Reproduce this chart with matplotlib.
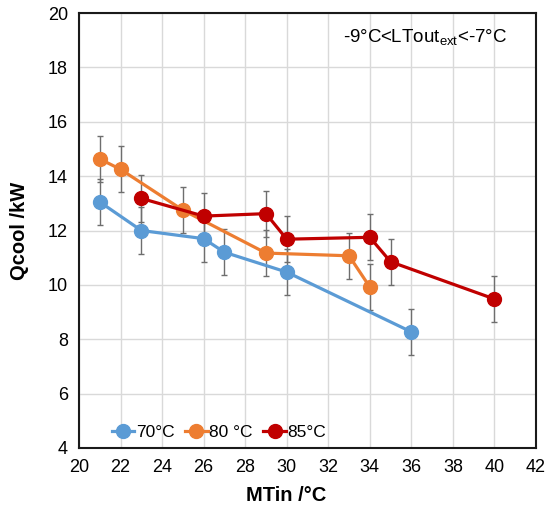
import matplotlib
matplotlib.use("Agg")
import matplotlib.pyplot as plt

# measured cooling capacity vs. inlet temperature, per supply temperature
mtin_70 = [21, 23, 26, 27, 30, 36]
qcool_70 = [13.05, 12.0, 11.7, 11.2, 10.47, 8.27]

mtin_80 = [21, 22, 25, 29, 33, 34]
qcool_80 = [14.63, 14.25, 12.75, 11.17, 11.07, 9.92]

mtin_85 = [23, 26, 29, 30, 34, 35, 40]
qcool_85 = [13.18, 12.53, 12.62, 11.68, 11.75, 10.85, 9.48]

qcool_err = 0.85

series = [
    ("70°C", mtin_70, qcool_70, "#5B9BD5"),
    ("80 °C", mtin_80, qcool_80, "#ED7D31"),
    ("85°C", mtin_85, qcool_85, "#C00000"),
]

plt.rcParams["font.family"] = ["Liberation Sans", "DejaVu Sans"]

fig = plt.figure(figsize=(5.46, 5.12), dpi=100)
ax = fig.add_axes([0.1447, 0.125, 0.837, 0.8496])

for label, x, y, color in series:
    ax.errorbar(x, y, yerr=qcool_err, fmt="none", ecolor="#6E6E6E",
                elinewidth=1.0, capsize=2.5, capthick=1.0, zorder=2)
    ax.plot(x, y, "-o", color=color, lw=2.3, ms=10, label=label, zorder=3)

ax.set_xlim(20, 42)
ax.set_ylim(4, 20)
ax.set_xticks(range(20, 43, 2))
ax.set_yticks(range(4, 21, 2))
ax.grid(True, color="#D9D9D9", lw=1.0, zorder=0)
ax.set_axisbelow(True)
ax.tick_params(length=0, labelsize=13, pad=8)
for s in ax.spines.values():
    s.set_color("#1A1A1A")
    s.set_linewidth(1.5)

ax.set_xlabel("MTin /°C", fontsize=14.5, fontweight="bold")
ax.xaxis.set_label_coords(0.453, -0.088)
ax.set_ylabel("Qcool /kW", fontsize=14.5, fontweight="bold")
ax.yaxis.set_label_coords(-0.11, 0.5)

ax.text(0.757, 0.943, r"-9°C<LTout$_{\mathregular{ext}}$<-7°C", transform=ax.transAxes,
        ha="center", va="center", fontsize=13.5)

ax.legend(loc="lower left", bbox_to_anchor=(0.045, -0.01), ncol=3, frameon=False,
          fontsize=12.5, handlelength=1.3, handletextpad=0.1, columnspacing=0.6,
          borderaxespad=0.3)

fig.savefig("out.png", dpi=100, facecolor="white")
